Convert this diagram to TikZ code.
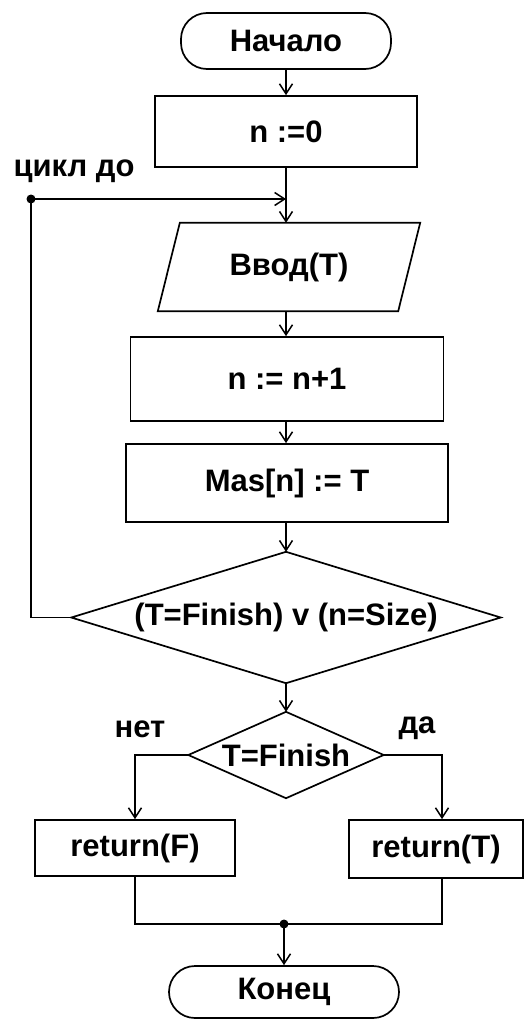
\documentclass[tikz,border=0pt]{standalone}
\usepackage{fontspec}
\setmainfont{Liberation Sans}
\usetikzlibrary{arrows.meta,shapes.geometric}
\begin{document}
\begin{tikzpicture}[x=1pt,y=-1pt,
  every node/.style={font=\fontsize{31}{35}\selectfont\bfseries, inner sep=0pt},
  line/.style={line width=1.7pt},
  arr/.style={line width=1.7pt,-{Straight Barb[length=10pt,width=13pt,line width=1.5pt]}},
  proc/.style={draw,line width=1.7pt,rectangle},
  term/.style={draw,line width=1.7pt,rectangle,rounded corners=26pt},
  plain/.style={rectangle},
  dotc/.style={circle,fill=black,minimum size=9pt,inner sep=0pt}]
\useasboundingbox (0,0) rectangle (526,1020);
% nodes
\node[term,minimum width=210pt,minimum height=56pt] (start) at (286,41) {Начало};
\node[proc,minimum width=262pt,minimum height=71pt] (n0) at (286,131.5) {n :=0};
\node[plain,minimum width=262pt,minimum height=88pt] (in) at (289,267) {Ввод(T)};
\draw[line] ([xshift=22pt]in.north west) -- (in.north east) -- ([xshift=-22pt]in.south east) -- (in.south west) -- cycle;
\node[proc,minimum width=313pt,minimum height=84pt] (n1) at (287,379) {n := n+1};
\node[proc,minimum width=322pt,minimum height=78pt] (mas) at (287,483) {Mas[n] := T};
\node[plain,minimum width=429pt,minimum height=131pt] (d1) at (286,617.5) {(T=Finish) v (n=Size)};
\draw[line] (d1.north) -- (d1.east) -- (d1.south) -- (d1.west) -- cycle;
\node[plain,minimum width=195pt,minimum height=86pt] (d2) at (286,755) {T=Finish};
\draw[line] (d2.north) -- (d2.east) -- (d2.south) -- (d2.west) -- cycle;
\node[proc,minimum width=200pt,minimum height=56pt] (rf) at (135,848) {return(F)};
\node[proc,minimum width=174pt,minimum height=58pt] (rt) at (436,849) {return(T)};
\node[term,minimum width=230pt,minimum height=52pt] (end) at (284,992) {Конец};
% labels
\node (lbl) at (74,171) {цикл до};
\node (no) at (140,729) {нет};
\node (yes) at (417,728) {да};
% junction points
\node[dotc] (ld) at (31,199) {};
\node[dotc] (jd) at (284,924) {};
\coordinate (lm) at (n0.south |- ld);
\coordinate (rtn) at ([xshift=6pt]rt.north);
\coordinate (rts) at ([xshift=6pt]rt.south);
% connectors
\draw[arr] (start) -- (n0);
\draw[arr] (n0.south) -- (n0.south |- in.north);
\draw[arr] (ld.center) -- (lm);
\draw[arr] (n0.south |- in.south) -- (n0.south |- n1.north);
\draw[arr] (n0.south |- n1.south) -- (n0.south |- mas.north);
\draw[arr] (n0.south |- mas.south) -- (d1.north);
\draw[line] (d1.west) -| (ld.center);
\draw[arr] (d1.south) -- (d2.north);
\draw[arr] (d2.west) -| (rf.north);
\draw[arr] (d2.east) -| (rtn);
\draw[line] (rf.south) |- (jd.center) -| (rts);
\draw[arr] (jd.center) -- (end.north);
\end{tikzpicture}
\end{document}
